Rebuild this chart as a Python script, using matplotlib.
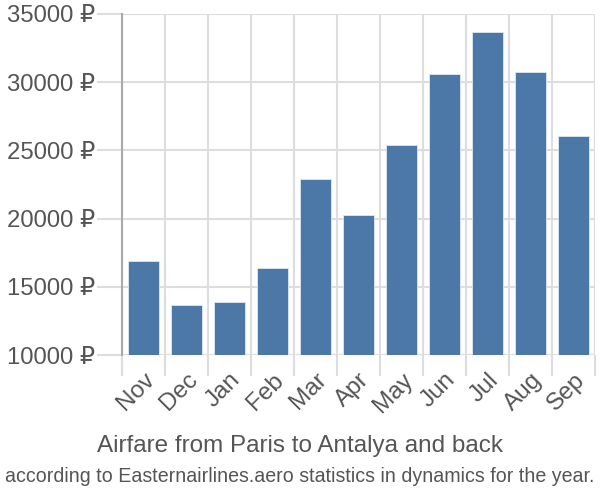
import numpy as np
import matplotlib.pyplot as plt

months = ['Nov', 'Dec', 'Jan', 'Feb', 'Mar', 'Apr', 'May', 'Jun', 'Jul', 'Aug', 'Sep']
prices = [16900, 13680, 13880, 16350, 22900, 20230, 25380, 30620, 33700, 30740, 26060]
yticks = [10000, 15000, 20000, 25000, 30000, 35000]

plt.rcParams['font.family'] = ['Liberation Sans', 'DejaVu Sans']

fig = plt.figure(figsize=(6, 5), dpi=100)
ax = fig.add_axes([0.203, 0.29, 0.789, 0.682])

x = np.arange(len(months))
ax.bar(x, prices, width=0.72, color='#4c78a8', edgecolor='#dfe8f2', linewidth=0.6, zorder=3)

ax.set_xlim(-0.5, len(months) - 0.5)
ax.set_ylim(10000, 35000)

ax.set_xticks(x)
ax.set_xticklabels(months, rotation=45, ha='right', rotation_mode='anchor')
ax.set_xticks(np.arange(-0.5, len(months)), minor=True)
ax.set_yticks(yticks)
ax.set_yticklabels([f'{v} ₽' for v in yticks])

ax.tick_params(axis='x', which='major', length=0, labelsize=17.5, labelcolor='#555555', pad=10)
ax.tick_params(axis='x', which='minor', length=15, color='#dddddd', width=1.5)
ax.tick_params(axis='y', length=18, color='#dddddd', width=1.5, labelsize=17.2, labelcolor='#555555', pad=1)

ax.grid(True, which='minor', axis='x', color='#dddddd', linewidth=1.5, zorder=0)
ax.grid(True, which='major', axis='y', color='#dddddd', linewidth=1.5, zorder=0)

for s in ['top', 'right', 'bottom']:
    ax.spines[s].set_visible(False)
ax.spines['left'].set_color('#aaaaaa')
ax.spines['left'].set_linewidth(1.5)

fig.text(0.5, 0.108, 'Airfare from Paris to Antalya and back', ha='center', va='center',
         fontsize=17.5, color='#555555')
fig.text(0.5, 0.048, 'according to Easternairlines.aero statistics in dynamics for the year.',
         ha='center', va='center', fontsize=14.1, color='#555555')

fig.savefig('out.png', dpi=100)
